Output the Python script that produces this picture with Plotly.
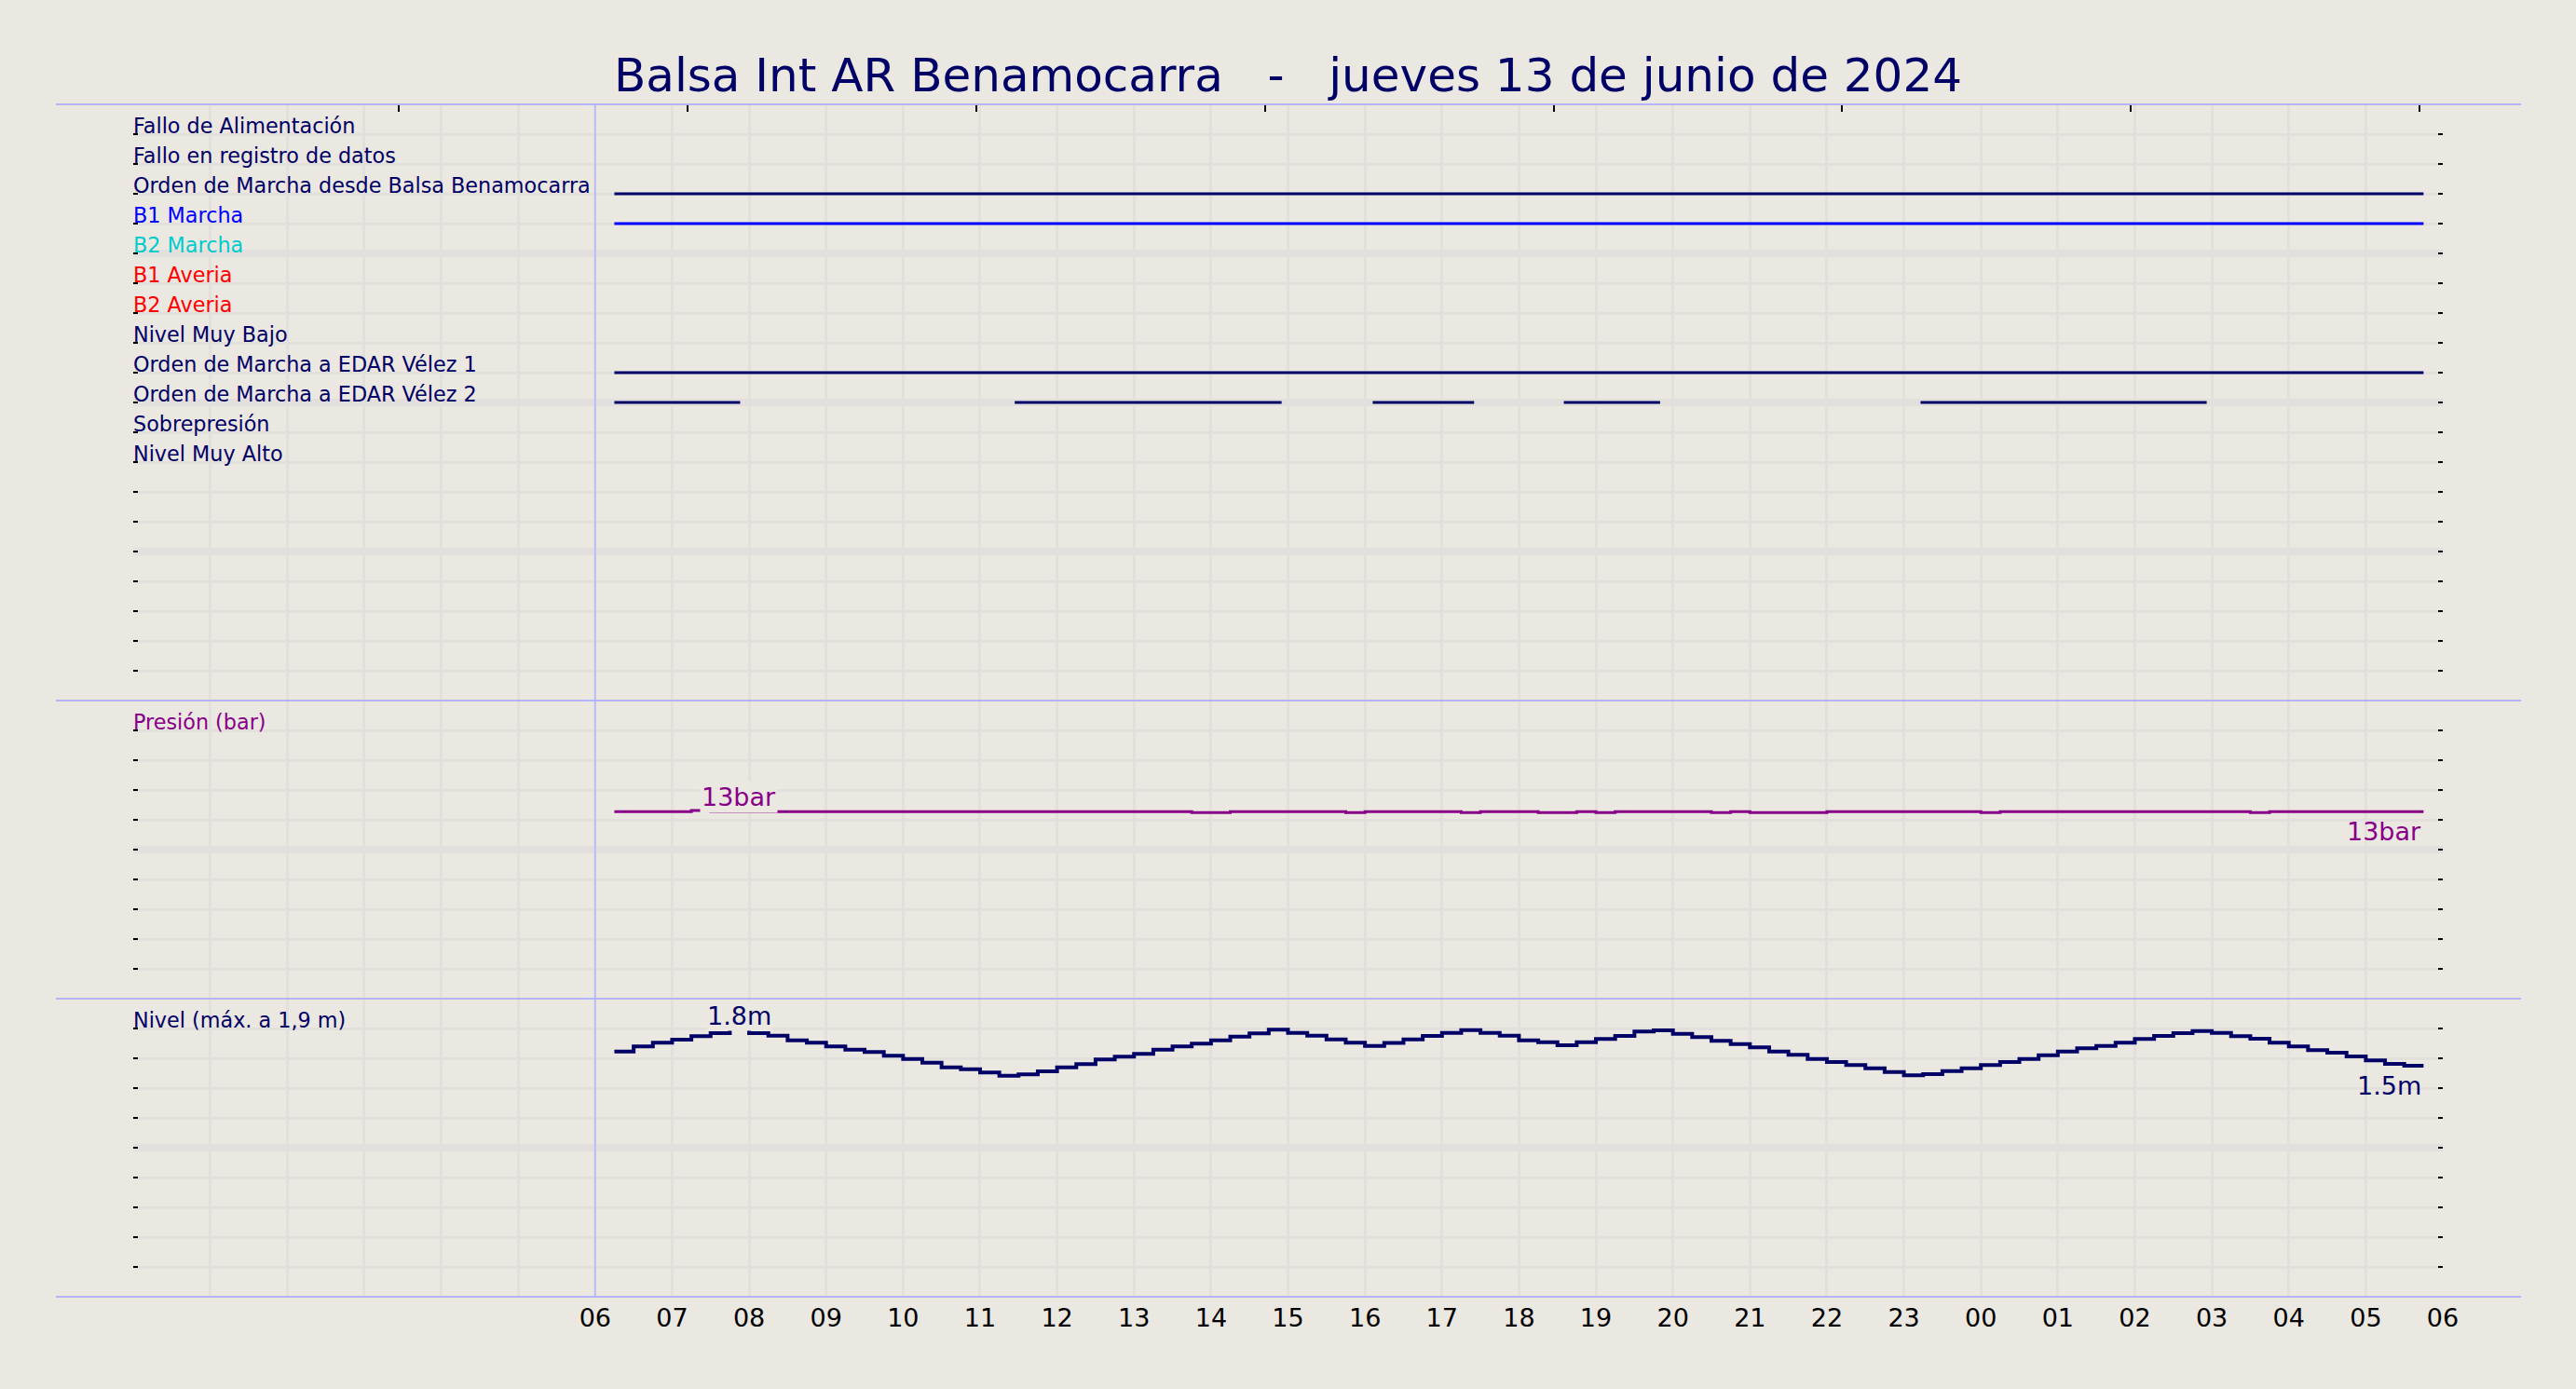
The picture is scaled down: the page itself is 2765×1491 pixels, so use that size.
import pandas as pd
import plotly.graph_objects as go

# --- datos ---
titulo = "Balsa Int AR Benamocarra\u00a0\u00a0\u00a0-\u00a0\u00a0\u00a0jueves 13 de junio de 2024"

senales = ["Fallo de Alimentación", "Fallo en registro de datos",
           "Orden de Marcha desde Balsa Benamocarra", "B1 Marcha", "B2 Marcha",
           "B1 Averia", "B2 Averia", "Nivel Muy Bajo",
           "Orden de Marcha a EDAR Vélez 1", "Orden de Marcha a EDAR Vélez 2",
           "Sobrepresión", "Nivel Muy Alto"]
colores_senal = ["#000066", "#000066", "#000066", "#0000FF", "#00CCCC",
                 "#FF0000", "#FF0000", "#000066", "#000066", "#000066",
                 "#000066", "#000066"]

# intervalos en marcha (inicio, fin) por señal
balsa_on = [("2024-06-13 06:15", "2024-06-14 05:45")]
b1_on = [("2024-06-13 06:15", "2024-06-14 05:45")]
velez1_on = [("2024-06-13 06:15", "2024-06-14 05:45")]
velez2_on = [("2024-06-13 06:15", "2024-06-13 07:53"),
             ("2024-06-13 11:27", "2024-06-13 14:55"),
             ("2024-06-13 16:06", "2024-06-13 17:25"),
             ("2024-06-13 18:35", "2024-06-13 19:50"),
             ("2024-06-13 23:13", "2024-06-14 02:56")]
intervalos = {
    "Orden de Marcha desde Balsa Benamocarra": balsa_on,
    "B1 Marcha": b1_on,
    "Orden de Marcha a EDAR Vélez 1": velez1_on,
    "Orden de Marcha a EDAR Vélez 2": velez2_on,
}

inicio = "2024-06-13 06:15"   # primera muestra, cada 15 min

presion = [12.55, 12.55, 12.55, 12.55, 12.62, 12.55, 12.55, 12.55, 12.55, 12.55,
           12.55, 12.55, 12.55, 12.55, 12.55, 12.55, 12.55, 12.55, 12.55, 12.55,
           12.55, 12.55, 12.55, 12.55, 12.55, 12.55, 12.55, 12.55, 12.55, 12.55,
           12.49, 12.49, 12.55, 12.55, 12.55, 12.55, 12.55, 12.55, 12.49, 12.55,
           12.55, 12.55, 12.55, 12.55, 12.49, 12.55, 12.55, 12.55, 12.49, 12.49,
           12.55, 12.49, 12.55, 12.55, 12.55, 12.55, 12.55, 12.49, 12.55, 12.49,
           12.49, 12.49, 12.49, 12.55, 12.55, 12.55, 12.55, 12.55, 12.55, 12.55,
           12.55, 12.49, 12.55, 12.55, 12.55, 12.55, 12.55, 12.55, 12.55, 12.55,
           12.55, 12.55, 12.55, 12.55, 12.55, 12.49, 12.55, 12.55, 12.55, 12.55,
           12.55, 12.55, 12.55, 12.55]

nivel = [1.646, 1.679, 1.704, 1.725, 1.748, 1.769, 1.800, 1.769, 1.752, 1.721,
         1.704, 1.679, 1.658, 1.642, 1.617, 1.596, 1.571, 1.539, 1.527, 1.504,
         1.483, 1.492, 1.513, 1.539, 1.561, 1.592, 1.611, 1.629, 1.658, 1.679,
         1.698, 1.721, 1.746, 1.767, 1.792, 1.771, 1.752, 1.727, 1.704, 1.683,
         1.703, 1.727, 1.750, 1.771, 1.789, 1.771, 1.752, 1.721, 1.708, 1.688,
         1.708, 1.729, 1.750, 1.779, 1.788, 1.764, 1.742, 1.717, 1.696, 1.673,
         1.646, 1.623, 1.596, 1.575, 1.554, 1.533, 1.508, 1.486, 1.494, 1.514,
         1.533, 1.554, 1.575, 1.596, 1.621, 1.646, 1.667, 1.683, 1.704, 1.729,
         1.750, 1.769, 1.783, 1.771, 1.748, 1.731, 1.704, 1.679, 1.654, 1.638,
         1.613, 1.586, 1.563, 1.550]

horas = pd.date_range("2024-06-13 00:00", "2024-06-14 06:00", freq="h")
etiquetas_hora = ["" if h < pd.Timestamp("2024-06-13 06:00") else h.strftime("%H") for h in horas]

# --- estilo ---
fondo = "#EBE7E1"
rejilla = "#E3DFDD"
azul_sep = "#B4B4FF"
navy = "#000066"
morado = "#880088"
fuente = "DejaVu Sans"

fig = go.Figure()

# señales digitales (panel superior, fila i en y = 19 - i)
for i, nombre in enumerate(senales):
    fila = 19 - i
    xs, ys = [], []
    for a, b in intervalos.get(nombre, []):
        xs += [a, b, None]
        ys += [fila, fila, None]
    if xs:
        fig.add_trace(go.Scatter(x=xs, y=ys, mode="lines", xaxis="x", yaxis="y",
                                 line=dict(color=colores_senal[i], width=3),
                                 showlegend=False, hoverinfo="skip"))
    fig.add_annotation(text=nombre, xref="x domain", x=0, xanchor="left", xshift=-2,
                       yref="y", y=fila, yanchor="bottom", yshift=-6, showarrow=False,
                       font=dict(family=fuente, size=22.3, color=colores_senal[i]))

# presión
t_pres = pd.date_range(inicio, periods=len(presion) + 1, freq="15min")
fig.add_trace(go.Scatter(x=t_pres, y=presion + [presion[-1]], mode="lines", line_shape="hv",
                         xaxis="x2", yaxis="y2", line=dict(color=morado, width=3),
                         showlegend=False, hoverinfo="skip"))

# nivel
t_niv = pd.date_range(inicio, periods=len(nivel) + 1, freq="15min")
fig.add_trace(go.Scatter(x=t_niv, y=nivel + [nivel[-1]], mode="lines", line_shape="hv",
                         xaxis="x3", yaxis="y3", line=dict(color=navy, width=4),
                         showlegend=False, hoverinfo="skip"))

# eje superior con marcas
fig.add_trace(go.Scatter(x=[], y=[], xaxis="x4", yaxis="y", showlegend=False, hoverinfo="skip"))

fig.add_annotation(text="Presión (bar)", xref="x2 domain", x=0, xanchor="left", xshift=-2,
                   yref="y2", y=18, yanchor="bottom", yshift=-6, showarrow=False,
                   font=dict(family=fuente, size=22.3, color=morado))
fig.add_annotation(text="Nivel (máx. a 1,9 m)", xref="x3 domain", x=0, xanchor="left", xshift=-2,
                   yref="y3", y=1.8, yanchor="bottom", yshift=-6, showarrow=False,
                   font=dict(family=fuente, size=22.3, color=navy))

# valores
fig.add_annotation(text=f"{round(max(presion))}bar", xref="x2", x="2024-06-13 07:52", yref="y2",
                   y=presion[0], yanchor="bottom", yshift=-2, showarrow=False, bgcolor=fondo,
                   borderpad=1, font=dict(family=fuente, size=27, color=morado))
fig.add_annotation(text=f"{round(presion[-1])}bar", xref="x2", x=t_pres[-1], xanchor="right",
                   yref="y2", y=presion[-1], yanchor="top", yshift=-4, showarrow=False,
                   font=dict(family=fuente, size=27, color=morado))
fig.add_annotation(text=f"{max(nivel[:12]):.1f}m", xref="x3", x="2024-06-13 07:52", yref="y3",
                   y=1.78, yanchor="bottom", showarrow=False, bgcolor=fondo, borderpad=0,
                   font=dict(family=fuente, size=27, color=navy))
fig.add_annotation(text=f"{nivel[-1] - 0.001:.1f}m", xref="x3", x=t_niv[-1], xanchor="right",
                   yref="y3", y=nivel[-1], yanchor="top", yshift=-4, showarrow=False,
                   font=dict(family=fuente, size=27, color=navy))

# ejes
rango_x = ["2024-06-13 00:00", "2024-06-14 06:00"]
eje_x = dict(type="date", range=rango_x, tickmode="array", tickvals=horas, ticktext=etiquetas_hora,
             showgrid=True, gridcolor=rejilla, gridwidth=2.7, zeroline=False, showline=False,
             ticks="", fixedrange=True)
fig.update_layout(
    xaxis=dict(eje_x, anchor="y", showticklabels=False, matches="x3"),
    xaxis2=dict(eje_x, anchor="y2", showticklabels=False, matches="x3"),
    xaxis3=dict(eje_x, anchor="y3", showticklabels=True, ticklabelstandoff=4,
                tickfont=dict(family=fuente, size=27, color="black")),
    xaxis4=dict(overlaying="x", side="top", anchor="y", range=[0, 30],
                tickmode="array", tickvals=[3.45, 7.2, 10.95, 14.7, 18.45, 22.2, 25.95, 29.7],
                ticks="inside", ticklen=8, tickwidth=2, tickcolor="black",
                showticklabels=False, showgrid=False, zeroline=False, showline=False),
)


def eje_y(dominio, rango, mayor, menor):
    return dict(domain=dominio, range=rango, tickmode="array", tickvals=mayor,
                showgrid=True, gridcolor=rejilla, gridwidth=8, zeroline=False, showline=False,
                showticklabels=False, ticks="inside", ticklen=5, tickwidth=2, tickcolor="black",
                mirror="ticks", fixedrange=True,
                minor=dict(tickmode="linear", tick0=0, dtick=menor, showgrid=True,
                           gridcolor=rejilla, gridwidth=2.7, ticks="inside", ticklen=5,
                           tickwidth=2, tickcolor="black"))


fig.update_layout(
    yaxis=eje_y([0.5, 1.0], [0, 20], [5, 10, 15], 1),
    yaxis2=eje_y([0.25, 0.5], [0, 20], [10], 2),
    yaxis3=eje_y([0.0, 0.25], [0, 2], [1], 0.2),
)

# líneas separadoras
for yp in [0, 0.25, 0.5, 1.0]:
    fig.add_shape(type="line", xref="paper", yref="paper", x0=-0.0335, x1=1.0339, y0=yp, y1=yp,
                  line=dict(color=azul_sep, width=2))
fig.add_shape(type="line", xref="x", yref="paper", x0="2024-06-13 06:00", x1="2024-06-13 06:00",
              y0=0, y1=1, line=dict(color=azul_sep, width=1.5))

fig.update_layout(
    width=2765, height=1491,
    margin=dict(l=143, r=143, t=112, b=99),
    paper_bgcolor=fondo, plot_bgcolor=fondo,
    title=dict(text=titulo, x=0.5, xanchor="center", y=1 - 80 / 1491, yanchor="middle",
               yref="container", font=dict(family=fuente, size=50, color=navy)),
    font=dict(family=fuente),
    showlegend=False,
    hovermode=False,
)

fig.write_html("out.html", config={"displayModeBar": False},
               post_script="document.body.style.margin='0';document.body.style.overflow='hidden';")
